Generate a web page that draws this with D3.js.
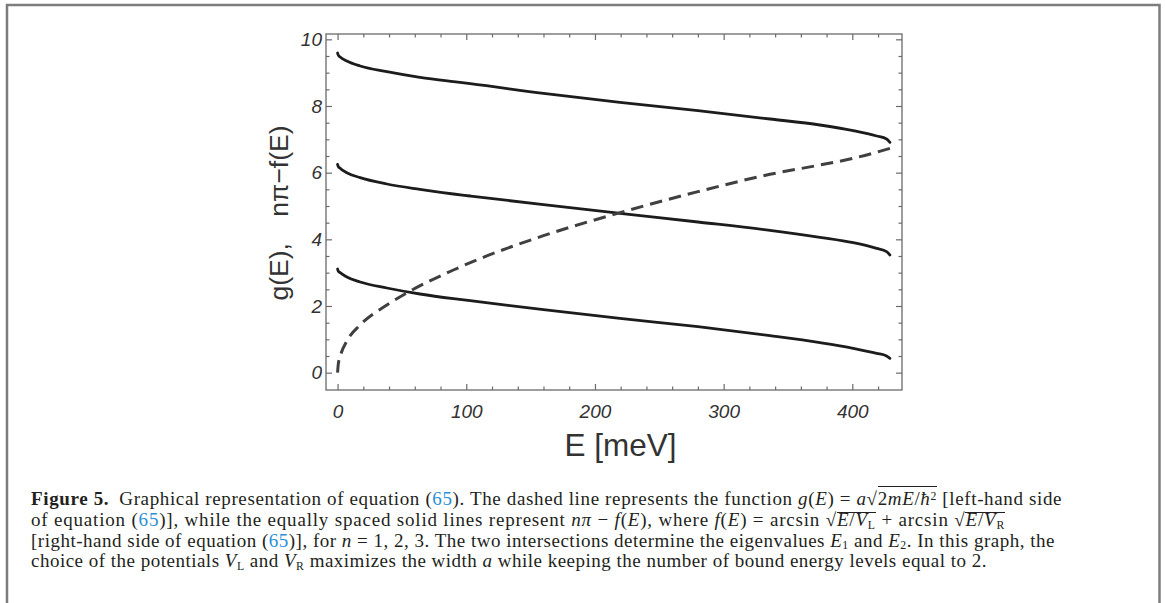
<!DOCTYPE html>
<html>
<head>
<meta charset="utf-8">
<script src="https://cdn.jsdelivr.net/npm/d3@7"></script>
<style>
  body { margin: 0; background: #fff; }
  #chart { position: absolute; left: 0; top: 0; }
  .cap {
    position: absolute; left: 31px; white-space: nowrap;
    font-family: "Liberation Serif", "Times New Roman", serif;
    font-size: 19px; line-height: 20px; color: #231f20;
  }
  .cap .ref { color: #2b8fd6; }
  .cap .sb { font-size: 0.62em; position: relative; top: 0.2em; line-height: 0; }
  .cap .sp { font-size: 0.62em; position: relative; top: -0.45em; line-height: 0; }
  .cap .ov { display: inline-block; border-top: 1.2px solid #231f20; line-height: 14px; }
  .cap .ov1 { line-height: 20px; padding-top: 2px; }
  .cap .mark { display: inline-block; width: 0; height: 0; }
</style>
</head>
<body>
<svg id="chart" width="1165" height="603"></svg>
<div id="caption"></div>
<script>
// Energy grid (meV) shared by the three n·pi − f(E) branches
const energySolid = [0, 0.5, 2, 7.2, 17.5, 38.3, 64, 90, 103, 160, 219.4, 280, 336, 374.8, 400.7, 418.9, 426.6, 429.2];
// n = 3, 2, 1 branches of n·pi − f(E)
const branchN3 = [9.59, 9.53, 9.47, 9.35, 9.20, 9.03, 8.86, 8.73, 8.67, 8.38, 8.11, 7.86, 7.61, 7.43, 7.26, 7.10, 7.01, 6.91];
const branchN2 = [6.25, 6.19, 6.13, 6.00, 5.85, 5.66, 5.50, 5.36, 5.30, 5.04, 4.78, 4.52, 4.27, 4.06, 3.90, 3.73, 3.63, 3.53];
const branchN1 = [3.11, 3.05, 3.00, 2.87, 2.72, 2.54, 2.36, 2.22, 2.16, 1.89, 1.63, 1.38, 1.11, 0.90, 0.73, 0.58, 0.50, 0.43];
// g(E) = a·sqrt(2mE)/hbar
const energyDashed = [0, 0.5, 2.5, 7.2, 17.5, 38.3, 56.5, 90, 110.7, 160, 219.4, 280, 336, 374.8, 400.7, 429.2];
const gValues = [0, 0.24, 0.55, 0.95, 1.43, 2.03, 2.45, 3.08, 3.42, 4.11, 4.80, 5.43, 5.95, 6.23, 6.43, 6.73];

// Frame ticks
const xMajorTicks = [0, 100, 200, 300, 400];
const xMinorTicks = [20, 40, 60, 80, 120, 140, 160, 180, 220, 240, 260, 280, 320, 340, 360, 380, 420];
const yMajorTicks = [0, 2, 4, 6, 8, 10];
const yMinorTicks = [0.5, 1, 1.5, 2.5, 3, 3.5, 4.5, 5, 5.5, 6.5, 7, 7.5, 8.5, 9, 9.5];

const xTitle = "E [meV]";
const yTitle = "g(E),\u2003nπ−f(E)";

const svg = d3.select("#chart");

// Outer figure frame (open at the bottom)
svg.append("path")
  .attr("d", "M7,620V5H1159.5V620")
  .attr("fill", "none").attr("stroke", "#7d7d7d").attr("stroke-width", 2.5);

const x = d3.scaleLinear().domain([-9, 438.6]).range([326, 902]);
const y = d3.scaleLinear().domain([-0.52, 10.16]).range([390, 34]);

const frameColor = "#6b6b6b";
const tickFont = "'Liberation Sans', Arial, sans-serif";

function styleAxis(g) {
  g.select(".domain").remove();
  g.selectAll(".tick line").attr("stroke", frameColor).attr("stroke-width", 1.2);
  g.selectAll(".tick text")
    .attr("fill", "#333").attr("font-family", tickFont)
    .attr("font-style", "italic").attr("font-size", 19);
}

const axes = svg.append("g");
// bottom
axes.append("g").attr("transform", "translate(0,390)")
  .call(d3.axisBottom(x).tickValues(xMajorTicks).tickSize(-6).tickPadding(15).tickFormat(d3.format("d")))
  .call(styleAxis);
axes.append("g").attr("transform", "translate(0,390)")
  .call(d3.axisBottom(x).tickValues(xMinorTicks).tickSize(-3.5).tickFormat(""))
  .call(styleAxis);
// top
axes.append("g").attr("transform", "translate(0,34)")
  .call(d3.axisTop(x).tickValues(xMajorTicks).tickSize(-6).tickFormat(""))
  .call(styleAxis);
axes.append("g").attr("transform", "translate(0,34)")
  .call(d3.axisTop(x).tickValues(xMinorTicks).tickSize(-3.5).tickFormat(""))
  .call(styleAxis);
// left
axes.append("g").attr("transform", "translate(326,0)")
  .call(d3.axisLeft(y).tickValues(yMajorTicks).tickSize(-6).tickPadding(4).tickFormat(d3.format("d")))
  .call(styleAxis);
axes.append("g").attr("transform", "translate(326,0)")
  .call(d3.axisLeft(y).tickValues(yMinorTicks).tickSize(-3.5).tickFormat(""))
  .call(styleAxis);
// right
axes.append("g").attr("transform", "translate(902,0)")
  .call(d3.axisRight(y).tickValues(yMajorTicks).tickSize(-6).tickFormat(""))
  .call(styleAxis);
axes.append("g").attr("transform", "translate(902,0)")
  .call(d3.axisRight(y).tickValues(yMinorTicks).tickSize(-3.5).tickFormat(""))
  .call(styleAxis);

// plot frame
svg.append("rect")
  .attr("x", 326).attr("y", 34).attr("width", 576).attr("height", 356)
  .attr("fill", "none").attr("stroke", frameColor).attr("stroke-width", 1.3);

// curves
const line = d3.line().x(d => x(d[0])).y(d => y(d[1])).curve(d3.curveMonotoneX);
const curves = svg.append("g");
[branchN1, branchN2, branchN3].forEach(vals => {
  curves.append("path")
    .attr("d", line(d3.zip(energySolid, vals)))
    .attr("fill", "none").attr("stroke", "#1c1c1c")
    .attr("stroke-width", 2.8).attr("stroke-linecap", "round");
});
curves.append("path")
  .attr("d", line(d3.zip(energyDashed, gValues)))
  .attr("fill", "none").attr("stroke", "#404040")
  .attr("stroke-width", 3).attr("stroke-dasharray", "12.5,7");

// axis titles
svg.append("text")
  .attr("x", 620.5).attr("y", 456)
  .attr("text-anchor", "middle")
  .attr("font-family", tickFont).attr("font-size", 31.5).attr("fill", "#333")
  .text(xTitle);
svg.append("text")
  .attr("transform", "translate(279,213) rotate(-90)")
  .attr("text-anchor", "middle").attr("dominant-baseline", "central")
  .attr("font-family", tickFont).attr("font-size", 26.5).attr("fill", "#333")
  .text(yTitle);

// caption
const captionLines = [
  { base: 505.3, right: 1062, html: '<b>Figure 5.</b>&ensp;Graphical representation of equation (<span class="ref">65</span>). The dashed line represents the function <i>g</i>(<i>E</i>) = <i>a</i>√<span class="ov ov1">2<i>mE</i>/<i>ħ</i><span class="sp">2</span></span> [left-hand side' },
  { base: 526.2, right: 1005, html: 'of equation (<span class="ref">65</span>)], while the equally spaced solid lines represent <i>nπ</i> − <i>f</i>(<i>E</i>), where <i>f</i>(<i>E</i>) = arcsin √<span class="ov"><i>E</i>/<i>V</i><span class="sb">L</span></span> + arcsin √<span class="ov"><i>E</i>/<i>V</i><span class="sb">R</span></span>' },
  { base: 546.8, right: 1055, html: '[right-hand side of equation (<span class="ref">65</span>)], for <i>n</i> = 1, 2, 3. The two intersections determine the eigenvalues <i>E</i><span class="sb">1</span> and <i>E</i><span class="sb">2</span>. In this graph, the' },
  { base: 567.2, right: 987, html: 'choice of the potentials <i>V</i><span class="sb">L</span> and <i>V</i><span class="sb">R</span> maximizes the width <i>a</i> while keeping the number of bound energy levels equal to 2.' }
];
const cap = d3.select("#caption");
captionLines.forEach(l => {
  const div = cap.append("div").attr("class", "cap").style("top", "0px")
    .html('<span class="mark"></span>' + l.html);
  const node = div.node();
  const markTop = node.querySelector(".mark").getBoundingClientRect().top;
  div.style("top", (l.base - markTop) + "px");
  const w = node.getBoundingClientRect().width;
  const chars = node.textContent.length;
  const target = l.right - 31;
  div.style("letter-spacing", ((target - w) / chars) + "px");
});
</script>
</body>
</html>
